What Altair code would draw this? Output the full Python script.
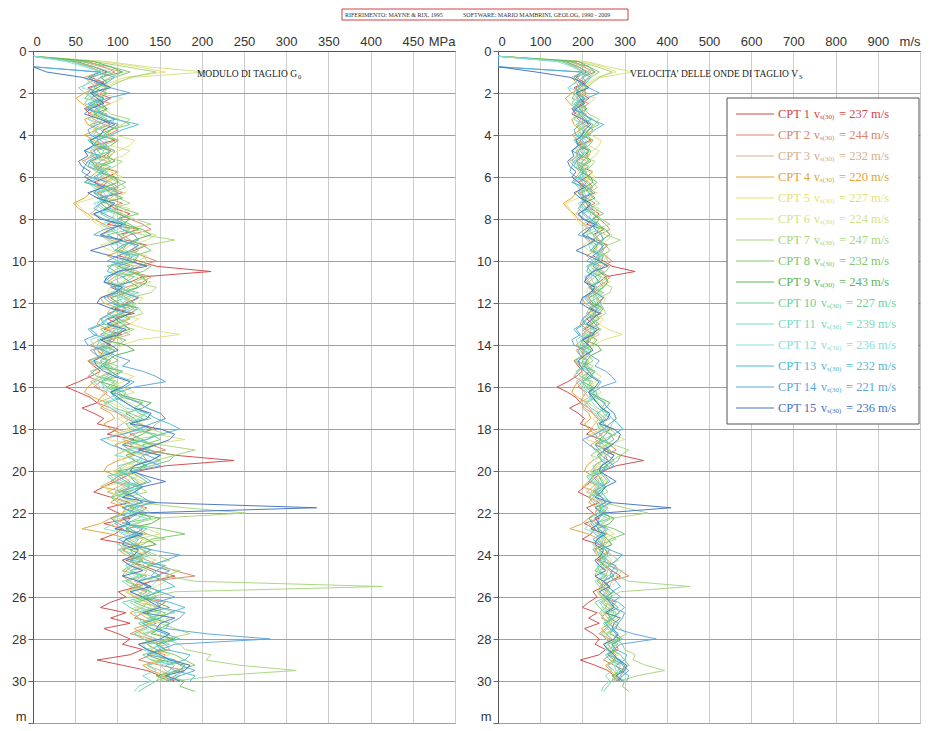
import altair as alt
import pandas as pd

# ---------------- data ----------------
DEPTH = [0.25, 0.5, 0.75, 1.0, 1.25, 1.5, 1.75, 2.0, 2.25, 2.5,
         2.75, 3.0, 3.25, 3.5, 3.75, 4.0, 4.25, 4.5, 4.75, 5.0,
         5.25, 5.5, 5.75, 6.0, 6.25, 6.5, 6.75, 7.0, 7.25, 7.5,
         7.75, 8.0, 8.25, 8.5, 8.75, 9.0, 9.25, 9.5, 9.75, 10.0,
         10.25, 10.5, 10.75, 11.0, 11.25, 11.5, 11.75, 12.0, 12.25, 12.5,
         12.75, 13.0, 13.25, 13.5, 13.75, 14.0, 14.25, 14.5, 14.75, 15.0,
         15.25, 15.5, 15.75, 16.0, 16.25, 16.5, 16.75, 17.0, 17.25, 17.5,
         17.75, 18.0, 18.25, 18.5, 18.75, 19.0, 19.25, 19.5, 19.75, 20.0,
         20.25, 20.5, 20.75, 21.0, 21.25, 21.5, 21.75, 22.0, 22.25, 22.5,
         22.75, 23.0, 23.25, 23.5, 23.75, 24.0, 24.25, 24.5, 24.75, 25.0,
         25.25, 25.5, 25.75, 26.0, 26.25, 26.5, 26.75, 27.0, 27.25, 27.5,
         27.75, 28.0, 28.25, 28.5, 28.75, 29.0, 29.25, 29.5, 29.75, 30.0,
         30.25, 30.5]

CPT_NAMES = ["CPT 1", "CPT 2", "CPT 3", "CPT 4", "CPT 5", "CPT 6", "CPT 7", "CPT 8",
             "CPT 9", "CPT 10", "CPT 11", "CPT 12", "CPT 13", "CPT 14", "CPT 15"]
VS30 = [237, 244, 232, 220, 227, 224, 247, 232, 243, 227, 239, 236, 232, 221, 236]

# shear wave velocity Vs (m/s)
VS_01 = [0,160,190,210,185,205,180,195,215,200, 175,185,200,215,190,200,220,190,215,205,
         185,195,225,210,190,215,230,200,210,220, 240,225,210,250,225,235,260,245,225,250,
         270,325,255,240,215,230,250,235,220,245, 210,225,205,230,200,215,195,205,180,190,
         200,185,165,140,165,185,195,170,190,205, 195,225,210,245,230,260,290,345,280,250,
         235,220,205,190,215,240,210,225,240,205, 230,220,200,240,255,260,235,255,270,290,
         265,250,225,235,215,200,235,215,240,205, 225,240,230,255,240,195,230,260,275,290, None,None]
VS_02 = [0,180,205,220,200,190,210,200,185,215, 195,180,190,205,225,210,195,200,220,215,
         200,190,210,200,215,225,195,210,230,205, 225,240,255,265,240,225,250,240,255,270,
         250,240,265,255,235,225,210,220,235,210, 225,240,215,200,220,210,185,195,215,205,
         190,180,200,190,210,200,195,215,225,235, 250,270,240,255,265,280,255,260,245,235,
         225,215,240,225,215,235,260,250,235,220, 230,240,255,250,230,245,260,275,290,310,
         265,240,260,250,280,270,255,245,270,255, 240,265,280,285,265,250,275,300,290,280, None,None]
VS_03 = [0,170,200,230,215,200,185,180,205,195, 180,210,195,190,205,215,195,205,190,185,
         210,200,205,220,205,195,225,215,200,195, 185,205,220,230,245,250,230,220,245,235,
         225,250,230,215,225,240,215,225,245,230, 220,210,225,240,215,200,220,205,190,215,
         225,200,185,195,205,215,195,205,225,240, 230,220,245,230,250,265,240,245,230,220,
         230,240,225,210,230,250,240,230,215,235, 250,260,235,245,265,250,230,240,260,255,
         245,265,255,245,260,270,250,260,265,275, 260,255,275,265,270,280,260,275,285,270, None,None]
VS_04 = [0,150,185,200,175,185,195,175,160,170, 185,195,175,180,195,175,190,205,185,190,
         170,180,195,185,175,200,185,175,155,165, 180,190,205,220,200,215,235,230,210,225,
         245,235,220,210,230,220,200,205,225,215, 200,195,210,220,200,185,205,200,180,195,
         215,210,190,180,175,190,210,200,215,220, 205,215,230,240,220,230,245,225,210,205,
         225,215,200,235,225,215,235,230,215,200, 170,215,240,250,225,235,255,245,235,230,
         240,250,235,245,260,255,240,250,265,245, 255,270,250,260,280,275,255,265,280,275, None,None]
VS_05 = [0,200,250,280,235,215,200,190,180,175, 195,205,180,195,210,220,245,240,225,210,
         190,200,215,230,205,215,200,190,160,170, 175,185,195,205,230,225,200,215,235,240,
         210,220,240,230,215,210,230,245,215,225, 250,240,260,295,250,230,220,210,190,200,
         225,245,230,215,205,200,215,230,240,225, 235,245,220,210,250,240,220,230,245,215,
         240,255,230,225,215,235,245,230,220,215, 225,240,255,270,245,260,240,245,230,240,
         250,255,235,250,260,265,250,275,265,260, 270,285,260,270,285,265,275,280,270,285, None,None]
VS_06 = [0,210,260,320,245,220,205,195,230,215, 200,185,200,210,190,200,225,215,240,230,
         210,205,225,215,195,200,235,220,205,240, 225,215,235,245,270,260,240,230,260,250,
         235,215,245,265,240,230,255,250,235,215, 240,225,210,205,230,220,195,200,215,210,
         200,195,215,230,245,225,240,250,260,240, 255,235,270,300,260,230,255,250,235,225,
         250,230,205,215,230,240,255,265,225,240, 260,275,245,230,240,255,270,250,240,265,
         280,270,255,250,265,245,270,285,260,275, 250,260,275,280,265,290,305,300,275,285, None,None]
VS_07 = [0,190,235,270,240,225,210,205,195,190, 205,215,240,230,215,210,225,200,215,195,
         230,220,200,210,225,235,215,225,240,215, 230,245,265,230,255,290,260,240,255,260,
         245,235,260,245,270,265,240,230,250,255, 235,215,245,230,215,205,220,210,200,225,
         215,200,225,215,230,240,250,260,275,280, 270,265,280,245,275,310,290,270,255,245,
         220,230,250,260,235,250,300,355,270,245, 235,260,280,240,255,270,285,260,295,280,
         310,455,290,265,250,275,290,260,275,290, 305,280,295,300,325,320,350,395,330,290, None,None]
VS_08 = [0,170,215,240,220,200,190,210,200,185, 210,200,225,240,215,195,225,215,195,205,
         215,190,200,215,235,220,200,205,215,230, 250,225,240,250,230,240,255,265,245,235,
         265,255,230,240,250,225,235,245,215,230, 240,220,200,210,235,225,200,215,225,205,
         215,225,200,210,220,230,255,245,250,265, 240,250,265,275,255,260,290,285,265,240,
         250,260,245,225,245,270,240,255,265,230, 275,300,265,255,230,240,250,265,240,255,
         235,250,265,270,245,260,280,275,255,265, 280,285,260,270,290,300,310,290,280,300, 295,310]
VS_09 = [0,190,215,230,200,210,195,185,205,200, 210,190,205,225,215,205,185,195,215,210,
         220,200,195,220,225,205,215,230,200,210, 225,240,230,255,265,245,235,225,250,245,
         225,240,255,260,250,235,215,225,250,240, 220,230,240,215,205,235,245,220,210,200,
         230,215,200,225,215,240,265,255,235,245, 250,265,255,240,270,255,235,245,260,225,
         240,245,255,235,245,255,230,245,275,265, 235,245,260,270,240,255,240,250,265,275,
         250,260,275,255,270,285,260,265,285,275, 265,290,270,280,260,275,300,295,270,285, None,None]
VS_10 = [0,160,190,215,180,195,210,185,175,205, 180,195,210,185,200,210,180,190,205,200,
         185,215,200,195,210,220,190,200,215,225, 200,215,230,240,210,225,245,250,235,230,
         210,220,245,235,215,250,235,215,240,225, 210,205,230,220,200,195,220,215,200,205,
         185,195,220,210,235,230,210,220,240,255, 235,240,270,260,240,250,275,265,245,235,
         210,220,250,240,215,225,245,260,250,235, 260,250,235,225,240,245,255,240,230,260,
         250,245,265,255,230,240,255,270,250,260, 245,255,270,275,255,265,290,285,275,270, 260,250]
VS_11 = [0,150,180,205,190,185,165,175,190,195, 185,200,220,215,195,190,180,205,220,185,
         175,195,210,200,180,190,205,210,195,205, 230,225,200,215,225,235,215,220,250,240,
         220,230,205,215,235,245,225,230,215,210, 225,235,220,215,195,205,215,200,185,210,
         230,220,200,205,225,215,225,235,260,250, 240,255,230,240,250,265,255,250,225,230,
         240,250,235,220,230,245,250,235,260,250, 220,230,250,245,255,265,245,235,240,250,
         230,240,250,260,240,250,275,265,260,280, 255,270,285,255,270,285,260,270,255,265, 250,245]
VS_12 = [0,140,175,200,205,180,170,195,185,175, 200,190,180,205,195,185,210,200,175,195,
         200,185,195,205,180,195,215,210,190,200, 220,215,235,225,200,210,225,235,245,220,
         230,245,220,225,235,215,230,240,250,225, 200,215,225,205,185,190,210,200,185,195,
         215,210,190,200,215,225,205,215,230,240, 250,260,245,250,270,235,220,255,245,240,
         215,225,240,250,225,235,255,245,230,220, 205,240,250,235,225,250,260,255,240,245,
         270,265,240,255,265,270,245,250,255,265, 280,275,255,260,270,290,275,280,295,275, None,None]
VS_13 = [0,0,0,195,220,210,185,190,205,180, 195,200,220,250,230,215,195,190,175,200,
         185,180,205,190,175,210,225,195,210,215, 190,205,225,230,245,250,230,220,240,235,
         215,210,230,240,220,225,205,215,235,230, 210,200,180,190,215,210,190,195,210,205,
         215,225,245,235,215,220,235,245,260,270, 285,295,275,260,230,240,260,275,255,250,
         225,235,255,245,255,265,245,240,215,225, 240,250,235,245,265,255,240,280,270,265,
         280,290,270,260,285,300,285,275,255,265, 280,295,270,280,305,300,280,290,310,305, None,None]
VS_14 = [0,0,0,200,180,195,215,240,210,190, 175,205,220,195,180,185,200,210,190,195,
         180,175,170,185,210,200,190,210,200,190, 205,220,235,205,190,225,250,240,225,210,
         240,225,215,205,220,230,250,240,225,215, 200,205,185,195,175,180,205,220,240,230,
         255,270,280,245,225,235,250,260,275,280, 265,250,230,200,215,235,245,260,275,245,
         255,265,245,230,245,255,230,250,240,235, 255,245,225,240,265,295,280,265,285,270,
         250,260,275,290,270,275,300,295,285,280, 320,375,290,275,260,290,295,310,295,285, None,None]
VS_15 = [0,0,0,90,170,200,215,185,195,205, 185,175,200,220,205,200,185,190,175,180,
         165,170,185,175,190,205,180,195,220,210, 190,200,230,215,200,230,210,185,215,240,
         260,225,210,205,230,220,200,195,215,240, 225,210,235,225,200,215,225,205,190,195,
         205,220,240,230,215,225,235,245,265,260, 240,275,290,285,270,250,275,265,245,240,
         260,280,255,245,230,265,410,250,230,240, 220,255,235,230,250,245,230,240,255,230,
         250,265,240,255,265,275,255,290,275,270, 285,275,250,260,275,285,305,300,280,295, None,None]

# shear modulus G0 (MPa)
G0_01 = [0,51,72,88,68,84,65,76,92,80, 61,68,80,92,72,80,97,72,92,84,
         68,76,101,88,72,92,106,80,88,97, 115,101,88,125,101,110,135,120,101,125,
         146,211,130,115,92,106,125,110,97,120, 88,101,84,106,80,92,76,84,65,72,
         80,68,54,39,54,68,76,58,72,84, 76,101,88,120,106,135,168,238,157,125,
         110,97,84,72,92,115,88,101,115,84, 106,97,80,115,130,135,110,130,146,168,
         140,125,101,110,92,80,110,92,115,84, 101,115,106,130,115,76,106,135,151,168, None,None]
G0_02 = [0,65,84,97,80,72,88,80,68,92, 76,65,72,84,101,88,76,80,97,92,
         80,72,88,80,92,101,76,88,106,84, 101,115,130,140,115,101,125,115,130,146,
         125,115,140,130,110,101,88,97,110,88, 101,115,92,80,97,88,68,76,92,84,
         72,65,80,72,88,80,76,92,101,110, 125,146,115,130,140,157,130,135,120,110,
         101,92,115,101,92,110,135,125,110,97, 106,115,130,125,106,120,135,151,168,192,
         140,115,135,125,157,146,130,120,146,130, 115,140,157,162,140,125,151,180,168,157, None,None]
G0_03 = [0,58,80,106,92,80,68,65,84,76, 65,88,76,72,84,92,76,84,72,68,
         88,80,84,97,84,76,101,92,80,76, 68,84,97,106,120,125,106,97,120,110,
         101,125,106,92,101,115,92,101,120,106, 97,88,101,115,92,80,97,84,72,92,
         101,80,68,76,84,92,76,84,101,115, 106,97,120,106,125,140,115,120,106,97,
         106,115,101,88,106,125,115,106,92,110, 125,135,110,120,140,125,106,115,135,130,
         120,140,130,120,135,146,125,135,140,151, 135,130,151,140,146,157,135,151,162,146, None,None]
G0_04 = [0,45,68,80,61,68,76,61,51,58, 68,76,61,65,76,61,72,84,68,72,
         58,65,76,68,61,80,68,61,48,54, 65,72,84,97,80,92,110,106,88,101,
         120,110,97,88,106,97,80,84,101,92, 80,76,88,97,80,68,84,80,65,76,
         92,88,72,65,61,72,88,80,92,97, 84,92,106,115,97,106,120,101,88,84,
         101,92,80,110,101,92,110,106,92,80, 58,92,115,125,101,110,130,120,110,106,
         115,125,110,120,135,130,115,125,140,120, 130,146,125,135,157,151,130,140,157,151, None,None]
G0_05 = [0,80,125,157,110,92,80,72,65,61, 76,84,65,76,88,97,120,115,101,88,
         72,80,92,106,84,92,80,72,51,58, 61,68,76,84,106,101,80,92,110,115,
         88,97,115,106,92,88,106,120,92,101, 125,115,135,174,125,106,97,88,72,80,
         101,120,106,92,84,80,92,106,115,101, 110,120,97,88,125,115,97,106,120,92,
         115,130,106,101,92,110,120,106,97,92, 101,115,130,146,120,135,115,120,106,115,
         125,130,110,125,135,140,125,151,140,135, 146,162,135,146,162,140,151,157,146,162, None,None]
G0_06 = [0,88,135,205,120,97,84,76,106,92, 80,68,80,88,72,80,101,92,115,106,
         88,84,101,92,76,80,110,97,84,115, 101,92,110,120,146,135,115,106,135,125,
         110,92,120,140,115,106,130,125,110,92, 115,101,88,84,106,97,76,80,92,88,
         80,76,92,106,120,101,115,125,135,115, 130,110,146,180,135,106,130,125,110,101,
         125,106,84,92,106,115,130,140,101,115, 135,151,120,106,115,130,146,125,115,140,
         157,146,130,125,140,120,146,162,135,151, 125,135,151,157,140,168,186,180,151,162, None,None]
G0_07 = [0,72,110,146,115,101,88,84,76,72, 84,92,115,106,92,88,101,80,92,76,
         106,97,80,88,101,110,92,101,115,92, 106,120,140,106,130,168,135,115,130,135,
         120,110,135,120,146,140,115,106,125,130, 110,92,120,106,92,84,97,88,80,101,
         92,80,101,92,106,115,125,135,151,157, 146,140,157,120,151,192,168,146,130,120,
         97,106,125,135,110,125,180,252,146,120, 110,135,157,115,130,146,162,135,174,157,
         192,414,168,140,125,151,168,135,151,168, 186,157,174,180,211,205,245,312,218,168, None,None]
G0_08 = [0,58,92,115,97,80,72,88,80,68, 88,80,101,115,92,76,101,92,76,84,
         92,72,80,92,110,97,80,84,92,106, 125,101,115,125,106,115,130,140,120,110,
         140,130,106,115,125,101,110,120,92,106, 115,97,80,88,110,101,80,92,101,84,
         92,101,80,88,97,106,130,120,125,140, 115,125,140,151,130,135,168,162,140,115,
         125,135,120,101,120,146,115,130,140,106, 151,180,140,130,106,115,125,140,115,130,
         110,125,140,146,120,135,157,151,130,140, 157,162,135,146,168,180,192,168,157,180, 174,192]
G0_09 = [0,72,92,106,80,88,76,68,84,80, 88,72,84,101,92,84,68,76,92,88,
         97,80,76,97,101,84,92,106,80,88, 101,115,106,130,140,120,110,101,125,120,
         101,115,130,135,125,110,92,101,125,115, 97,106,115,92,84,110,120,97,88,80,
         106,92,80,101,92,115,140,130,110,120, 125,140,130,115,146,130,110,120,135,101,
         115,120,130,110,120,130,106,120,151,140, 110,120,135,146,115,130,115,125,140,151,
         125,135,151,130,146,162,135,140,162,151, 140,168,146,157,135,151,180,174,146,162, None,None]
G0_10 = [0,51,72,92,65,76,88,68,61,84, 65,76,88,68,80,88,65,72,84,80,
         68,92,80,76,88,97,72,80,92,101, 80,92,106,115,88,101,120,125,110,106,
         88,97,120,110,92,125,110,92,115,101, 88,84,106,97,80,76,97,92,80,84,
         68,76,97,88,110,106,88,97,115,130, 110,115,146,135,115,125,151,140,120,110,
         88,97,125,115,92,101,120,135,125,110, 135,125,110,101,115,120,130,115,106,135,
         125,120,140,130,106,115,130,146,125,135, 120,130,146,151,130,140,168,162,151,146, 135,125]
G0_11 = [0,45,65,84,72,68,54,61,72,76, 68,80,97,92,76,72,65,84,97,68,
         61,76,88,80,65,72,84,88,76,84, 106,101,80,92,101,110,92,97,125,115,
         97,106,84,92,110,120,101,106,92,88, 101,110,97,92,76,84,92,80,68,88,
         106,97,80,84,101,92,101,110,135,125, 115,130,106,115,125,140,130,125,101,106,
         115,125,110,97,106,120,125,110,135,125, 97,106,125,120,130,140,120,110,115,125,
         106,115,125,135,115,125,151,140,135,157, 130,146,162,130,146,162,135,146,130,140, 125,120]
G0_12 = [0,39,61,80,84,65,58,76,68,61, 80,72,65,84,76,68,88,80,61,76,
         80,68,76,84,65,76,92,88,72,80, 97,92,110,101,80,88,101,110,120,97,
         106,120,97,101,110,92,106,115,125,101, 80,92,101,84,68,72,88,80,68,76,
         92,88,72,80,92,101,84,92,106,115, 125,135,120,125,146,110,97,130,120,115,
         92,101,115,125,101,110,130,120,106,97, 84,115,125,110,101,125,135,130,115,120,
         146,140,115,130,140,146,120,125,130,140, 157,151,130,135,146,168,151,157,174,151, None,None]
G0_13 = [0,0,0,76,97,88,68,72,84,65, 76,80,97,125,106,92,76,72,61,80,
         68,65,84,72,61,88,101,76,88,92, 72,84,101,106,120,125,106,97,115,110,
         92,88,106,115,97,101,84,92,110,106, 88,80,65,72,92,88,72,76,88,84,
         92,101,120,110,92,97,110,120,135,146, 162,174,151,135,106,115,135,151,130,125,
         101,110,130,120,130,140,120,115,92,101, 115,125,110,120,140,130,115,157,146,140,
         157,168,146,135,162,180,162,151,130,140, 157,174,146,157,186,180,157,168,192,186, None,None]
G0_14 = [0,0,0,80,65,76,92,115,88,72, 61,84,97,76,65,68,80,88,72,76,
         65,61,58,68,88,80,72,88,80,72, 84,97,110,84,72,101,125,115,101,88,
         115,101,92,84,97,106,125,115,101,92, 80,84,68,76,61,65,84,97,115,106,
         130,146,157,120,101,110,125,135,151,157, 140,125,106,80,92,110,120,135,151,120,
         130,140,120,106,120,130,106,125,115,110, 130,120,101,115,140,174,157,140,162,146,
         125,135,151,168,146,151,180,174,162,157, 205,281,168,151,135,168,174,192,174,162, None,None]
G0_15 = [0,0,0,16,58,80,92,68,76,84, 68,61,80,97,84,80,68,72,61,65,
         54,58,68,61,72,84,65,76,97,88, 72,80,106,92,80,106,88,68,92,115,
         135,101,88,84,106,97,80,76,92,115, 101,88,110,101,80,92,101,84,72,76,
         84,97,115,106,92,101,110,120,140,135, 115,151,168,162,146,125,151,140,120,115,
         135,157,130,120,106,140,336,125,106,115, 97,130,110,106,125,120,106,115,130,106,
         125,140,115,130,140,151,130,168,151,146, 162,151,125,135,151,162,186,180,157,174, None,None]

VS_ALL = [VS_01, VS_02, VS_03, VS_04, VS_05, VS_06, VS_07, VS_08,
          VS_09, VS_10, VS_11, VS_12, VS_13, VS_14, VS_15]
G0_ALL = [G0_01, G0_02, G0_03, G0_04, G0_05, G0_06, G0_07, G0_08,
          G0_09, G0_10, G0_11, G0_12, G0_13, G0_14, G0_15]

# ---------------- styles ----------------
COLORS = ["#d04848", "#d8846a", "#d6ae88", "#e2a434", "#e6df78", "#d4e286", "#a6d67c", "#7cc66c",
          "#58b658", "#68d29a", "#76dac0", "#86dfd8", "#4cbcd0", "#5aa6dc", "#4474c0"]
WIDTHS = [1, 1, 1, 1, 1, 1, 1, 1, 1.7, 1, 1, 1, 1.7, 1, 1]

SERIF = "Liberation Serif"
SANS = "Liberation Sans"


def long_table(series_list):
    rows = []
    for name, vals in zip(CPT_NAMES, series_list):
        for k, (d, v) in enumerate(zip(DEPTH, vals)):
            if v is not None:
                rows.append({"cpt": name, "k": k, "depth": d, "val": v})
    return pd.DataFrame(rows)


df_g0 = long_table(G0_ALL)
df_vs = long_table(VS_ALL)
leg_df = pd.DataFrame({"cpt": CPT_NAMES, "vs30": VS30, "row": list(range(len(CPT_NAMES)))})
one = pd.DataFrame({"a": [0]})

color_scale = alt.Scale(domain=CPT_NAMES, range=COLORS)
width_scale = alt.Scale(domain=CPT_NAMES, range=WIDTHS)

PW_L, PW_R, PH = 422, 422, 672


def y_enc():
    return alt.Y(
        "depth:Q",
        scale=alt.Scale(domain=[0, 32], reverse=True, nice=False, zero=False),
        axis=alt.Axis(values=list(range(0, 33, 2)),
                      labelExpr="datum.value == 32 ? 'm' : datum.label",
                      labelBaseline={"condition": {"test": "datum.value == 32", "value": "bottom"},
                                     "value": "middle"},
                      title=None, grid=True, gridColor="#a0a0a0", gridWidth=1,
                      tickSize=5, tickColor="#666", domainColor="#555",
                      labelFlush=False, labelFontSize=13, labelColor="#333",
                      labelFont=SANS, labelPadding=2),
    )


def line_layer(df, xmax, step, unit):
    x = alt.X(
        "val:Q",
        scale=alt.Scale(domain=[0, xmax], nice=False, zero=True),
        axis=alt.Axis(orient="top", values=list(range(0, xmax + 1, step)),
                      labelExpr=f"datum.value == {xmax} ? '{unit}' : datum.label",
                      title=None, ticks=False, grid=True, gridColor="#cccccc",
                      domainColor="#555", labelFontSize=13, labelColor="#333",
                      labelFont=SANS, labelPadding=3),
    )
    return alt.Chart(df).mark_line(clip=True, opacity=0.95).encode(
        x=x, y=y_enc(),
        color=alt.Color("cpt:N", scale=color_scale, legend=None),
        strokeWidth=alt.StrokeWidth("cpt:N", scale=width_scale, legend=None),
        detail="cpt:N",
        order="k:Q",
    )


def deco_text(txt, x, y, size, align="left", color="#222"):
    return alt.Chart(one).mark_text(align=align, baseline="middle", font=SERIF,
                                    fontSize=size, color=color).encode(
        x=alt.value(x), y=alt.value(y), text=alt.value(txt))


# ---------------- left panel: G0 ----------------
header_box = alt.Chart(one).mark_rect(fill="white", stroke="#d04040", strokeWidth=1).encode(
    x=alt.value(309), x2=alt.value(595), y=alt.value(-42), y2=alt.value(-31))
left = alt.layer(
    line_layer(df_g0, 500, 50, "MPa"),
    deco_text("MODULO DI TAGLIO G", 264, 23, 9.5, align="right"),
    deco_text("0", 265, 26, 6.5),
    header_box,
    deco_text("RIFERIMENTO: MAYNE & RIX, 1995", 312, -36.5, 6, color="#333"),
    deco_text("SOFTWARE: MARIO MAMBRINI, GEOLOG, 1990 - 2009", 430, -36.5, 6, color="#333"),
).properties(width=PW_L, height=PH)

# ---------------- right panel: Vs ----------------
leg_base = alt.Chart(leg_df).transform_calculate(depth="datum.row + 3")
leg_color = alt.Color("cpt:N", scale=color_scale, legend=None)

frame = alt.Chart(one).mark_rect(fill="white", stroke="#555", strokeWidth=1).encode(
    x=alt.value(229), x2=alt.value(421), y=alt.value(47), y2=alt.value(373))
leg_lines = leg_base.mark_rule().encode(
    x=alt.value(238), x2=alt.value(276), y=alt.Y("depth:Q"), color=leg_color,
    strokeWidth=alt.StrokeWidth("cpt:N", scale=width_scale, legend=None))
leg_names = leg_base.mark_text(align="left", baseline="middle", font=SERIF, fontSize=12.5).encode(
    x=alt.value(280), y=alt.Y("depth:Q"), text="cpt:N", color=leg_color)


def leg_pieces(filt, off):
    b = leg_base.transform_filter(filt)
    v = b.mark_text(align="left", baseline="middle", font=SERIF, fontSize=12).encode(
        x=alt.value(316 + off), y=alt.Y("depth:Q"), text=alt.value("v"), color=leg_color)
    s = b.mark_text(align="left", baseline="middle", font=SERIF, fontSize=7, dy=3).encode(
        x=alt.value(322 + off), y=alt.Y("depth:Q"), text=alt.value("s(30)"), color=leg_color)
    val = b.transform_calculate(lbl="'=  ' + datum.vs30 + ' m/s'").mark_text(
        align="left", baseline="middle", font=SERIF, fontSize=12.5).encode(
        x=alt.value(341 + off), y=alt.Y("depth:Q"), text="lbl:N", color=leg_color)
    return [v, s, val]


right = alt.layer(
    line_layer(df_vs, 1000, 100, "m/s"),
    deco_text("VELOCITA' DELLE ONDE DI TAGLIO V", 300, 23, 9.5, align="right"),
    deco_text("S", 301, 26, 6.5),
    frame, leg_lines, leg_names,
    *leg_pieces("datum.row < 9", 0),
    *leg_pieces("datum.row >= 9", 7),
).properties(width=PW_R, height=PH)

chart = alt.hconcat(left, right, spacing=43, bounds="flush").properties(
    padding={"left": 3, "top": 0, "right": 0, "bottom": 0},
    background="white",
).configure_view(stroke="#888")

chart.save("out.html", embed_options={"renderer": "svg", "actions": False})
